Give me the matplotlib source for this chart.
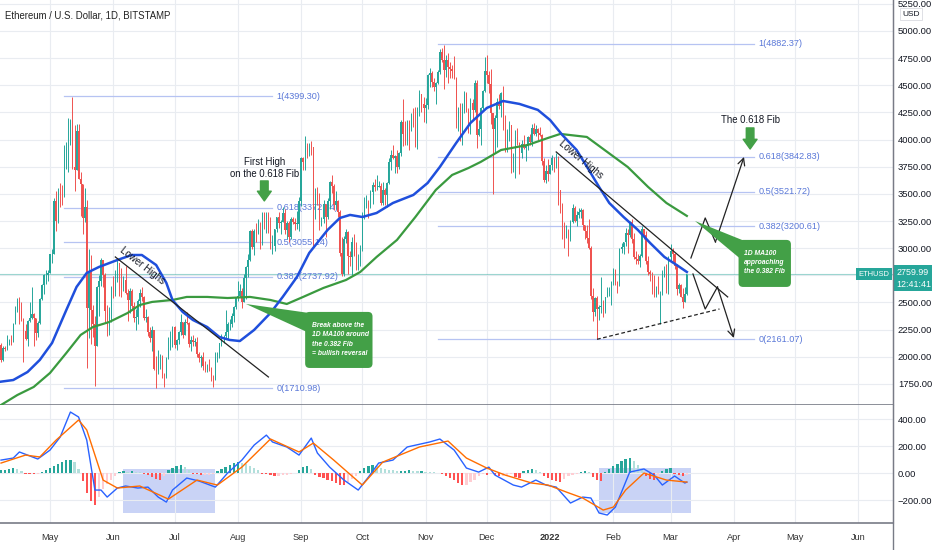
import numpy as np
import pandas as pd
import matplotlib
matplotlib.use("Agg")
import matplotlib.pyplot as plt
import matplotlib.dates as mdates
import matplotlib.transforms as mtransforms
from matplotlib.patches import Polygon, Rectangle, FancyBboxPatch
from matplotlib.lines import Line2D

plt.rcParams["font.family"] = ["Liberation Sans", "DejaVu Sans"]

# --- daily ETH/USD candles, 2021-04-07 .. 2022-03-09 (open = previous close) ---
first_open = 2110
close_px = [
    1970, 2085, 2070, 2135, 2150, 2135, 2300, 2430, 2515, 2420, 2350, 2235, 2165, 2330, 2360, 2395, 2360, 2215, 2310, 2530, 2660, 2750, 2755, 2775,  # Apr
    2945, 2950, 3430, 3250, 3520, 3490, 3480, 3900, 3930, 3950, 4170, 3750, 3720, 4080, 3640, 3590, 3280, 3380, 2450, 2780, 2430, 2300, 2100, 2640, 2700, 2890, 2750, 2420, 2280, 2390, 2630,  # May
    2600, 2710, 2860, 2690, 2630, 2710, 2590, 2520, 2610, 2470, 2360, 2370, 2510, 2590, 2550, 2360, 2370, 2230, 2170, 2250, 1890, 1870, 1970, 1990, 1830, 1820, 1980, 2080, 2160, 2275,  # Jun
    2110, 2150, 2225, 2320, 2200, 2320, 2310, 2120, 2150, 2140, 2140, 2030, 1990, 2000, 1915, 1880, 1900, 1895, 1820, 1790, 1995, 2025, 2125, 2190, 2190, 2230, 2300, 2300, 2380, 2460, 2540,  # Jul
    2560, 2610, 2505, 2725, 2830, 2890, 3160, 3010, 3160, 3140, 3165, 3045, 3320, 3265, 3310, 3150, 3010, 3020, 3180, 3290, 3230, 3240, 3320, 3170, 3230, 3100, 3270, 3240, 3225, 3225, 3430,  # Aug
    3830, 3790, 3940, 3890, 3950, 3930, 3430, 3500, 3425, 3210, 3265, 3410, 3285, 3430, 3610, 3570, 3400, 3430, 3330, 2960, 2760, 3080, 3150, 2930, 2920, 3060, 2930, 2810, 2850, 3000,  # Sep
    3310, 3390, 3420, 3380, 3515, 3585, 3560, 3560, 3570, 3415, 3540, 3490, 3600, 3790, 3860, 3830, 3845, 3745, 3880, 4160, 4050, 3970, 4170, 4080, 4220, 4130, 3930, 4290, 4420, 4325, 4290,  # Oct
    4320, 4590, 4610, 4530, 4480, 4520, 4620, 4810, 4735, 4640, 4730, 4670, 4650, 4630, 4570, 4210, 4290, 3990, 4300, 4420, 4270, 4090, 4340, 4270, 4525, 4040, 4095, 4290, 4445, 4630,  # Nov
    4590, 4515, 4240, 4100, 4200, 4350, 4310, 4430, 4110, 3910, 4080, 4130, 3780, 3860, 4020, 3965, 3880, 3960, 3920, 3940, 4020, 3980, 4110, 4050, 4100, 4065, 4040, 3800, 3630, 3710, 3680,  # Dec
    3770, 3830, 3760, 3790, 3540, 3410, 3200, 3090, 3160, 3080, 3240, 3370, 3250, 3310, 3330, 3350, 3210, 3160, 3090, 3000, 2560, 2410, 2540, 2440, 2460, 2460, 2420, 2550, 2600, 2610, 2690,  # Jan
    2800, 2690, 2660, 2990, 3010, 3060, 3140, 3120, 3240, 3080, 2920, 2900, 2880, 2930, 3180, 3120, 2880, 2780, 2760, 2620, 2570, 2640, 2590, 2600, 2770, 2780, 2620, 2920,  # Feb
    2970, 2950, 2835, 2620, 2665, 2550, 2500, 2575, 2760,  # Mar
]
high_px = [
    2130, 2100, 2100, 2200, 2160, 2200, 2315, 2470, 2545, 2550, 2500, 2360, 2300, 2340, 2500, 2640, 2400, 2360, 2330, 2540, 2670, 2760, 2800, 2800,
    2950, 2990, 3460, 3530, 3550, 3600, 3580, 3950, 3980, 4200, 4190, 4390, 4130, 4140, 4140, 3700, 3590, 3550, 3440, 2990, 2940, 2480, 2380, 2650, 2750, 2910, 2890, 2770, 2480, 2460, 2650,
    2740, 2800, 2890, 2860, 2820, 2740, 2840, 2620, 2630, 2620, 2500, 2440, 2530, 2620, 2640, 2560, 2440, 2380, 2270, 2280, 2250, 2010, 2060, 2030, 2020, 1850, 2000, 2180, 2240, 2280,
    2280, 2160, 2240, 2390, 2320, 2350, 2410, 2320, 2190, 2200, 2170, 2180, 2040, 2020, 2040, 1960, 1930, 1980, 1910, 1830, 2040, 2040, 2130, 2210, 2200, 2430, 2320, 2350, 2400, 2470, 2550,
    2700, 2670, 2630, 2760, 2840, 2950, 3170, 3180, 3180, 3230, 3270, 3240, 3330, 3330, 3330, 3330, 3290, 3120, 3180, 3290, 3330, 3260, 3380, 3360, 3250, 3250, 3290, 3290, 3280, 3340, 3470,
    3840, 3840, 4030, 3970, 3970, 3990, 3930, 3550, 3560, 3510, 3290, 3440, 3410, 3460, 3620, 3670, 3590, 3530, 3440, 3350, 3100, 3110, 3180, 3160, 2970, 3100, 3130, 3060, 2950, 3030,
    3330, 3470, 3490, 3440, 3540, 3610, 3640, 3670, 3620, 3600, 3610, 3550, 3610, 3830, 3900, 3950, 3860, 3900, 3890, 4180, 4370, 4170, 4180, 4180, 4240, 4290, 4300, 4300, 4460, 4420, 4390,
    4380, 4600, 4660, 4630, 4570, 4530, 4640, 4830, 4840, 4870, 4780, 4800, 4710, 4690, 4770, 4580, 4300, 4340, 4340, 4450, 4440, 4290, 4380, 4370, 4550, 4550, 4180, 4300, 4460, 4760,
    4780, 4630, 4650, 4240, 4230, 4380, 4420, 4440, 4490, 4230, 4100, 4170, 4130, 3880, 4090, 4110, 3980, 4000, 4040, 3960, 4030, 4050, 4140, 4150, 4130, 4110, 4120, 4050, 3830, 3770, 3820,
    3770, 3860, 3840, 3880, 3850, 3540, 3420, 3240, 3210, 3180, 3260, 3410, 3390, 3340, 3370, 3370, 3360, 3210, 3210, 3270, 3020, 2630, 2550, 2560, 2480, 2730, 2520, 2550, 2640, 2640, 2700,
    2820, 2810, 2700, 3000, 3050, 3060, 3190, 3180, 3250, 3270, 3140, 2970, 2950, 2950, 3200, 3180, 3160, 2930, 2800, 2780, 2750, 2650, 2740, 2610, 2800, 2840, 2850, 2930,
    3040, 3000, 2960, 2850, 2680, 2670, 2630, 2640, 2760,
]
low_px = [
    1950, 1960, 2050, 2060, 2110, 2110, 2135, 2300, 2410, 2300, 2330, 1950, 2150, 2100, 2320, 2350, 2100, 2150, 2180, 2300, 2520, 2580, 2670, 2700,
    2770, 2860, 2950, 3160, 3230, 3380, 3400, 3470, 3730, 3700, 3950, 3730, 3530, 3720, 3640, 3300, 3130, 3240, 1900, 2170, 2120, 2180, 1730, 2100, 2380, 2650, 2640, 2320, 2190, 2200, 2320,
    2540, 2560, 2690, 2560, 2550, 2610, 2580, 2330, 2400, 2440, 2320, 2250, 2300, 2460, 2510, 2340, 2320, 2190, 2140, 2050, 1880, 1710, 1840, 1890, 1800, 1720, 1800, 1980, 2060, 2090,
    2080, 2060, 2120, 2200, 2170, 2200, 2300, 2090, 2050, 2100, 2100, 2000, 1950, 1910, 1880, 1860, 1860, 1870, 1780, 1720, 1790, 1950, 1990, 2100, 2130, 2160, 2160, 2250, 2270, 2320, 2440,
    2510, 2550, 2450, 2500, 2530, 2730, 2880, 2990, 2940, 3060, 3130, 2990, 3030, 3180, 3140, 3140, 2990, 2950, 2970, 3150, 3190, 3130, 3240, 3130, 3080, 3060, 3080, 3220, 3170, 3180, 3160,
    3390, 3720, 3720, 3830, 3850, 3860, 3000, 3270, 3400, 3170, 3200, 3230, 3100, 3270, 3360, 3510, 3350, 3360, 3290, 2930, 2740, 2740, 3050, 2760, 2840, 2750, 2930, 2800, 2800, 2840,
    2970, 3270, 3370, 3280, 3370, 3410, 3530, 3540, 3560, 3400, 3400, 3400, 3380, 3590, 3720, 3820, 3690, 3690, 3730, 3850, 3940, 3950, 3950, 3900, 4080, 4120, 3930, 3910, 4220, 4250, 4160,
    4150, 4280, 4480, 4480, 4450, 4330, 4510, 4600, 4710, 4470, 4580, 4520, 4570, 4570, 4560, 4110, 4080, 3990, 3950, 4240, 4250, 4060, 4050, 4190, 4250, 3920, 4030, 3950, 4280, 4440,
    4520, 4430, 4140, 3500, 3880, 3930, 4280, 4210, 4090, 3890, 3890, 3990, 3690, 3700, 3650, 3950, 3680, 3830, 3910, 3800, 3900, 3950, 3940, 4040, 4030, 4000, 4030, 3770, 3610, 3600, 3620,
    3680, 3720, 3700, 3740, 3400, 3320, 3080, 3000, 3090, 2930, 3070, 3230, 3240, 3200, 3280, 3280, 3170, 3080, 3050, 2990, 2530, 2330, 2380, 2160, 2340, 2400, 2370, 2400, 2550, 2560, 2480,
    2660, 2660, 2590, 2650, 2960, 2950, 3020, 2960, 3100, 3050, 2900, 2850, 2850, 2830, 2920, 3080, 2850, 2750, 2700, 2580, 2550, 2550, 2580, 2300, 2570, 2730, 2590, 2580,
    2880, 2870, 2810, 2570, 2590, 2550, 2450, 2500, 2570,
]
last_price = 2759.99

# --- moving averages ---
ma50_dates = ["2021-04-07", "2021-04-13", "2021-04-20", "2021-04-26", "2021-05-02", "2021-05-09", "2021-05-14",
              "2021-05-19", "2021-05-25", "2021-06-03", "2021-06-10", "2021-06-15", "2021-06-22", "2021-06-27",
              "2021-06-30", "2021-07-05", "2021-07-10", "2021-07-17", "2021-07-23", "2021-07-28", "2021-08-02",
              "2021-08-09", "2021-08-17", "2021-08-23", "2021-08-30", "2021-09-05", "2021-09-14", "2021-09-20",
              "2021-09-25", "2021-10-01", "2021-10-08", "2021-10-16", "2021-10-26", "2021-11-02", "2021-11-08",
              "2021-11-16", "2021-11-23", "2021-12-01", "2021-12-09", "2021-12-17", "2021-12-26", "2022-01-01",
              "2022-01-07", "2022-01-14", "2022-01-20", "2022-01-25", "2022-01-30", "2022-02-06", "2022-02-13",
              "2022-02-19", "2022-02-26", "2022-03-04", "2022-03-09"]
ma50_vals = [1771, 1786, 1860, 1971, 2127, 2431, 2643, 2772, 2827, 2891, 2937, 2937, 2845, 2680, 2523, 2413, 2339,
             2274, 2182, 2155, 2145, 2247, 2403, 2551, 2735, 2956, 3168, 3278, 3306, 3287, 3324, 3416, 3490, 3600,
             3748, 3969, 4153, 4291, 4355, 4328, 4273, 4180, 4042, 3904, 3720, 3564, 3416, 3287, 3168, 3048, 2919,
             2845, 2781]
ma100_dates = ["2021-04-07", "2021-04-15", "2021-04-23", "2021-05-01", "2021-05-09", "2021-05-16", "2021-05-22",
               "2021-05-30", "2021-06-08", "2021-06-14", "2021-06-20", "2021-06-30", "2021-07-07", "2021-07-17",
               "2021-07-27", "2021-08-07", "2021-08-17", "2021-08-25", "2021-09-02", "2021-09-12", "2021-09-23",
               "2021-09-30", "2021-10-08", "2021-10-18", "2021-10-27", "2021-11-06", "2021-11-14", "2021-11-22",
               "2021-11-28", "2021-12-08", "2021-12-21", "2021-12-31", "2022-01-06", "2022-01-19", "2022-01-29",
               "2022-02-08", "2022-02-18", "2022-02-27", "2022-03-09"]
ma100_vals = [1556, 1648, 1722, 1851, 2035, 2201, 2274, 2320, 2403, 2477, 2505, 2523, 2551, 2551, 2541, 2551, 2523,
              2486, 2551, 2634, 2707, 2781, 2919, 3076, 3287, 3536, 3674, 3738, 3794, 3904, 3950, 4015, 4052, 4024,
              3886, 3748, 3564, 3416, 3297]

# --- fibonacci retracements ---
fib_labels = ["1", "0.618", "0.5", "0.382", "0"]
fib_left = [4399.30, 3372.34, 3055.14, 2737.92, 1710.98]
fib_right = [4882.37, 3842.83, 3521.72, 3200.61, 2161.07]

# --- MACD pane ---
macd_dates = ["2021-04-07", "2021-04-13", "2021-04-16", "2021-04-20", "2021-04-25", "2021-05-01", "2021-05-06",
              "2021-05-11", "2021-05-15", "2021-05-19", "2021-05-23", "2021-05-26", "2021-05-29", "2021-06-03",
              "2021-06-07", "2021-06-13", "2021-06-18", "2021-06-23", "2021-06-27", "2021-06-30", "2021-07-07",
              "2021-07-13", "2021-07-21", "2021-07-27", "2021-08-03", "2021-08-09", "2021-08-15", "2021-08-18",
              "2021-08-25", "2021-08-31", "2021-09-06", "2021-09-09", "2021-09-15", "2021-09-22", "2021-09-29",
              "2021-10-04", "2021-10-09", "2021-10-16", "2021-10-23", "2021-11-03", "2021-11-08", "2021-11-15",
              "2021-11-21", "2021-11-27", "2021-12-02", "2021-12-05", "2021-12-14", "2021-12-18", "2021-12-25",
              "2021-12-30", "2022-01-04", "2022-01-11", "2022-01-17", "2022-01-21", "2022-01-25", "2022-01-29",
              "2022-02-02", "2022-02-06", "2022-02-09", "2022-02-16", "2022-02-21", "2022-02-25", "2022-03-03",
              "2022-03-08", "2022-03-09"]
macd_vals = [96, 111, 156, 133, 104, 170, 267, 452, 415, 244, -126, -126, -178, -111, -96, -111, -104, -178, -215,
             -126, -37, -59, -104, 0, 96, 207, 281, 230, 193, 133, 259, 148, 44, -52, -126, -30, 74, 96, 193, 230,
             252, 170, 37, 7, 44, -15, -89, -104, -52, -89, -104, -222, -178, -185, -296, -311, -252, -104, 7, 30,
             -15, -89, -22, -74, -67]
signal_dates = ["2021-04-07", "2021-04-19", "2021-04-26", "2021-05-04", "2021-05-15", "2021-05-19", "2021-05-27",
                "2021-06-03", "2021-06-14", "2021-06-28", "2021-07-12", "2021-07-22", "2021-08-03", "2021-08-17",
                "2021-08-31", "2021-09-07", "2021-09-17", "2021-10-01", "2021-10-11", "2021-10-29", "2021-11-12",
                "2021-11-21", "2021-12-01", "2021-12-10", "2021-12-23", "2021-12-31", "2022-01-09", "2022-01-17",
                "2022-01-27", "2022-02-01", "2022-02-07", "2022-02-16", "2022-02-27", "2022-03-09"]
signal_vals = [74, 133, 119, 244, 393, 319, -52, -111, -96, -193, -52, -89, 44, 252, 156, 222, 96, -89, 81, 193,
               237, 111, 37, -15, -74, -89, -141, -185, -274, -252, -126, 0, -52, -67]
# histogram, one bar every 2 days from 2021-04-07
hist_vals = [20, 25, 30, 40, 30, 15, -5, -8, -10, -5,
             10, 25, 40, 55, 70, 85, 95, 95, 80, 30,
             -60, -150, -210, -235, -180, -120, -80, -50, -25,
             10, 15, 10, 12, 8, 5, -5, -15, -30, -45, -50, -25,
             20, 40, 55, 60, 45, 25, -5, -10, -15, -15, -12, -5,
             15, 30, 45, 60, 75, 80, 78, 65, 50, 35, 20,
             -5, -10, -15, -20, -20, -15, -12, -8, -3, 25, 45, 50, 30,
             -15, -30, -40, -50, -60, -75, -85, -88, -70, -45, -20,
             15, 35, 50, 58, 50, 40, 32, 25, 20, 15,
             15, 18, 20, 15, 12, 15, 10, 8, 5, 3,
             -10, -25, -40, -55, -75, -90, -85, -70, -50,
             -20, -10, -15, -5, -15, -25, -20, -15, -10, -30, -40,
             15, 25, 30, 25, 10, -20, -35, -50, -60, -65, -45, -25, -15, -8,
             10, 15, 8, -30, -55, -60,
             10, 30, 50, 70, 90, 105, 110, 90, 60, 30,
             -20, -45, -50, -35, 15, 30, 35, -5, -15, -20, -15]

GREEN = "#26a69a"
RED = "#ef5350"
FIB_LINE = "#b6c3f2"
FIB_TEXT = "#5a78d8"
CALLOUT = "#43a047"
INK = "#131722"


def dn(s):
    return mdates.date2num(pd.Timestamp(s))


fig = plt.figure(figsize=(9.32, 5.5), dpi=100)
ax = fig.add_axes([0, 145 / 550, 893 / 932, 405 / 550])
axm = fig.add_axes([0, 27 / 550, 893 / 932, 118 / 550], sharex=ax)

# --- candles ---
dates = pd.date_range("2021-04-07", periods=len(close_px), freq="D")
x = mdates.date2num(dates)
c = np.array(close_px, float)
o = np.concatenate([[first_open], c[:-1]])
h = np.maximum(np.array(high_px, float), np.maximum(o, c))
l = np.minimum(np.array(low_px, float), np.minimum(o, c))
col = np.where(c >= o, GREEN, RED)
ax.vlines(x, l, h, colors=col, lw=0.7, zorder=3)
ax.bar(x, np.maximum(np.abs(c - o), 5), bottom=np.minimum(o, c), width=0.62, color=col, linewidth=0, zorder=3)

# moving averages
ax.plot([dn(d) for d in ma100_dates], ma100_vals, color="#3a9a3f", lw=1.6, zorder=4, solid_joinstyle="round")
ax.plot([dn(d) for d in ma50_dates], ma50_vals, color="#1f4fdc", lw=1.8, zorder=4, solid_joinstyle="round")

# fibs
for lab, p in zip(fib_labels, fib_left):
    ax.plot([dn("2021-05-08"), dn("2021-08-18")], [p, p], color=FIB_LINE, lw=0.9, zorder=1.5)
    ax.text(dn("2021-08-20"), p, f"{lab}({p:.2f})", color=FIB_TEXT, fontsize=6.6, va="center", ha="left", zorder=2)
for lab, p in zip(fib_labels, fib_right):
    ax.plot([dn("2021-11-07"), dn("2022-04-11")], [p, p], color=FIB_LINE, lw=0.9, zorder=1.5)
    ax.text(dn("2022-04-13"), p, f"{lab}({p:.2f})", color=FIB_TEXT, fontsize=6.6, va="center", ha="left", zorder=2)

# last price line
ax.axhline(last_price, color=GREEN, lw=0.8, alpha=0.45, zorder=1.4)

# trend lines
ax.plot([dn("2021-06-02"), dn("2021-08-16")], [2919, 1814], color="#222", lw=0.9, zorder=5)
ax.text(dn("2021-06-15"), 2836, "Lower Highs", rotation=-38, rotation_mode="anchor", ha="center", va="center",
        fontsize=7, color=INK, zorder=6)
ax.plot([dn("2022-01-04"), dn("2022-03-29")], [3886, 2551], color="#222", lw=0.9, zorder=5)
ax.text(dn("2022-01-16"), 3812, "Lower Highs", rotation=-40, rotation_mode="anchor", ha="center", va="center",
        fontsize=7, color=INK, zorder=6)
ax.plot([dn("2022-01-24"), dn("2022-03-25")], [2161, 2440], color="#222", lw=0.9, ls=(0, (3, 2)), zorder=5)

# projected paths
up_path = [("2022-03-11", 2910), ("2022-03-18", 3278), ("2022-03-23", 3057), ("2022-04-06", 3840)]
down_path = [("2022-03-12", 2762), ("2022-03-18", 2440), ("2022-03-24", 2643), ("2022-04-01", 2173)]
for path in (up_path, down_path):
    px = [dn(d) for d, _ in path]
    py = [v for _, v in path]
    ax.plot(px[:-1], py[:-1], color="#222", lw=0.9, zorder=5)
    ax.annotate("", xy=(px[-1], py[-1]), xytext=(px[-2], py[-2]),
                arrowprops=dict(arrowstyle="->,head_length=0.5,head_width=0.25", color="#222", lw=0.9,
                                shrinkA=0, shrinkB=0), zorder=5)

# green arrows + notes
for d, tail, tip in [("2021-08-14", 3619, 3435), ("2022-04-09", 4107, 3913)]:
    ax.annotate("", xy=(dn(d), tip), xytext=(dn(d), tail),
                arrowprops=dict(arrowstyle="simple,head_length=0.7,head_width=1.0,tail_width=0.55",
                                color=CALLOUT, shrinkA=0, shrinkB=0), zorder=6)
ax.text(dn("2021-08-14"), 3738, "First High\non the 0.618 Fib", ha="center", va="center", fontsize=6.9,
        color=INK, linespacing=1.15, zorder=6)
ax.text(dn("2022-04-09"), 4180, "The 0.618 Fib", ha="center", va="center", fontsize=6.9, color=INK, zorder=6)

# callouts: pointer wedge + rounded box + text
# 1 px is about 0.49 day horizontally and $9.2 vertically
aspect = 9.2 / 0.49
callouts = [
    ([("2021-08-05", 2486), ("2021-09-05", 2403), ("2021-09-05", 2219)],
     ("2021-09-03", "2021-10-06", 1897, 2413), ("2021-09-06 10:00", 2159),
     "Break above the\n1D MA100 around\nthe 0.382 Fib\n= bullish reversal"),
    ([("2022-03-13", 3250), ("2022-04-05", 3076), ("2022-04-05", 2890)],
     ("2022-04-03 08:00", "2022-04-29", 2643, 3076), ("2022-04-06", 2868),
     "1D MA100\napproaching\nthe 0.382 Fib"),
]
for wedge, (bx0, bx1, by0, by1), (tx, ty), txt in callouts:
    ax.add_patch(Polygon([(dn(d), v) for d, v in wedge], closed=True, fc=CALLOUT, ec="none", zorder=6))
    ax.add_patch(FancyBboxPatch((dn(bx0), by0), dn(bx1) - dn(bx0), by1 - by0,
                                boxstyle="round,pad=0,rounding_size=2.2", mutation_aspect=aspect,
                                fc=CALLOUT, ec="none", zorder=6.5))
    ax.text(dn(tx), ty, txt, ha="left", va="center", fontsize=4.9, color="white", style="italic",
            weight="bold", linespacing=1.45, zorder=7)

# --- MACD ---
hist_dates = mdates.date2num(pd.date_range("2021-04-07", periods=len(hist_vals), freq="2D"))
hv = np.array(hist_vals, float)
prev = np.concatenate([[0], hv[:-1]])
hcol = np.where(hv >= 0, np.where(hv >= prev, "#26a69a", "#b2dfdb"), np.where(hv < prev, "#ff5252", "#ffcdd2"))
axm.add_patch(Rectangle((dn("2021-06-06"), -296), dn("2021-07-21") - dn("2021-06-06"), 326,
                        fc="#c9d3f6", ec="none", zorder=0.5))
axm.add_patch(Rectangle((dn("2022-01-25"), -296), dn("2022-03-11") - dn("2022-01-25"), 333,
                        fc="#c9d3f6", ec="none", zorder=0.5))
axm.bar(hist_dates, hv, width=1.1, color=hcol, linewidth=0, zorder=2)
axm.plot([dn(d) for d in macd_dates], macd_vals, color="#2962ff", lw=1.0, zorder=3)
axm.plot([dn(d) for d in signal_dates], signal_vals, color="#ff6d00", lw=1.0, zorder=3)

# --- axes cosmetics ---
ax.set_xlim(dn("2021-04-06 12:00"), dn("2022-06-18"))
ax.set_ylim(1556, 5285)
axm.set_ylim(-370, 504)

months = pd.date_range("2021-05-01", "2022-06-01", freq="MS")
month_labels = ["2022" if m.month == 1 else m.strftime("%b") for m in months]
axm.set_xticks(mdates.date2num(months))
axm.set_xticklabels(month_labels)
for t in axm.get_xticklabels():
    if t.get_text() == "2022":
        t.set_fontweight("bold")

ax.set_yticks(np.arange(1750, 5251, 250))
axm.set_yticks([-200, 0, 200, 400])
# the 2750 label sits under the last-price tag, as in the original
ax.yaxis.set_major_formatter(lambda v, pos: "" if abs(v - 2750) < 1 else f"{v:.2f}")
axm.yaxis.set_major_formatter(lambda v, pos: f"{v:.2f}".replace("-", "\u2212"))

for a in (ax, axm):
    a.yaxis.tick_right()
    a.tick_params(axis="y", length=0, pad=3.5, labelsize=6.8, labelcolor=INK)
    a.grid(True, color="#e9ecf1", lw=0.8, zorder=0)
    a.set_axisbelow(True)
    a.spines["top"].set_visible(False)
    a.spines["left"].set_visible(False)
    a.spines["right"].set_color("#787b86")
    a.spines["bottom"].set_color("#787b86")
    a.spines["bottom"].set_linewidth(1.2)
ax.tick_params(axis="x", length=0, labelbottom=False)
axm.tick_params(axis="x", length=0, pad=7, labelsize=6.6, labelcolor="#333")

# right-hand price tags
blend = mtransforms.blended_transform_factory(ax.transAxes, ax.transData)
ax.text(0.9963, last_price, "ETHUSD", transform=blend, ha="right", va="center", fontsize=5.4, color="white",
        bbox=dict(boxstyle="square,pad=0.35", fc=GREEN, ec="none"), zorder=8)
ax.text(1.0035, 2722, "2759.99\n12:41:41", transform=blend, ha="left", va="center", fontsize=6.4, color="white",
        linespacing=1.35, bbox=dict(boxstyle="square,pad=0.3", fc=GREEN, ec="none"), clip_on=False, zorder=8)

fig.add_artist(Line2D([893 / 932, 893 / 932], [0, 1], color="#787b86", lw=1.0))
fig.text(5 / 932, 1 - 15 / 550, "Ethereum / U.S. Dollar, 1D, BITSTAMP", fontsize=6.9, color="#222", va="center")
fig.text(911 / 932, 1 - 14 / 550, "USD", ha="center", va="center", fontsize=6, color=INK,
         bbox=dict(boxstyle="square,pad=0.3", fc="white", ec="#d9dbe0", lw=0.6))

fig.savefig("out.png", dpi=100)
